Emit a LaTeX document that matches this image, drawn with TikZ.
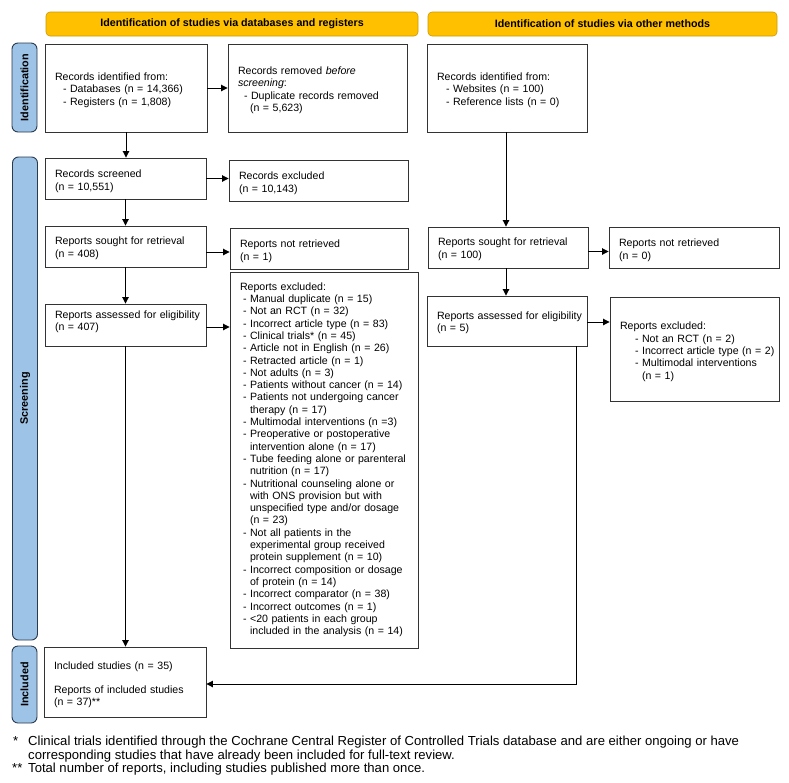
\documentclass[tikz,border=0pt]{standalone}
\usepackage{fontspec}
\setmainfont{Liberation Sans}
\usetikzlibrary{arrows.meta}
\definecolor{hdrfill}{HTML}{FFC000}
\definecolor{hdrdraw}{HTML}{C99A06}
\definecolor{sidefill}{HTML}{9DC3E6}
\definecolor{sidedraw}{HTML}{2B3A4E}
\definecolor{linec}{HTML}{333333}
\newcommand{\boxlines}[2][-2.5pt]{\raisebox{#1}[\height][\depth]{\begin{tabular}{@{}l@{}}#2\end{tabular}}}
\begin{document}
\begin{tikzpicture}[x=1pt,y=-1pt,
  box/.style={draw=linec, line width=0.9pt, rectangle, inner xsep=10pt, inner ysep=0pt,
    align=left, font=\fontsize{10.6}{12.3}\selectfont},
  hdr/.style={draw=hdrdraw, fill=hdrfill, rounded corners=4pt, line width=0.6pt,
    minimum height=24pt, inner sep=0pt, font=\bfseries\fontsize{10.7}{12}\selectfont},
  side/.style={draw=sidedraw, fill=sidefill, rounded corners=6pt, line width=0.9pt,
    rotate=90, minimum height=25pt, inner sep=0pt, font=\bfseries\fontsize{10.8}{12}\selectfont},
  arr/.style={draw=black, line width=0.9pt, -{Triangle[length=6.5pt,width=6.5pt]}},
  fn/.style={inner sep=0pt, anchor=base west, font=\fontsize{13.1}{14}\selectfont}]
\useasboundingbox (0,0) rectangle (789,782);
\fill[white] (0,0) rectangle (789,782);

% headers
\node[hdr, minimum width=372pt] (h1) at (232,24) {Identification of studies via databases and registers};
\node[hdr, minimum width=349pt] (h2) at (602.5,24) {Identification of studies via other methods};

% side bars
\node[side, minimum width=89pt] (s1) at (24.5,87.5) {Identification};
\node[side, minimum width=483pt] (s2) at (25,398.5) {Screening};
\node[side, minimum width=77pt] (s3) at (24.5,684.5) {Included};

% left column
\node[box, minimum width=162pt, minimum height=88pt, text width=142pt] (recid) at (126,88)
  {\boxlines{Records identified from:\\ \hspace*{8pt}- Databases (n = 14,366)\\ \hspace*{8pt}- Registers (n = 1,808)}};
\node[box, minimum width=179pt, minimum height=88pt, text width=159pt] (removed) at (317.5,88)
  {\boxlines{Records removed \textit{before}\\ \textit{screening}:\\ \hspace*{6pt}- Duplicate records removed\\ \hspace*{12pt}(n = 5,623)}};
\node[box, minimum width=161pt, minimum height=41pt, text width=141pt] (screened) at (125.5,178.5)
  {\boxlines[-3pt]{Records screened\\ (n = 10,551)}};
\node[box, minimum width=179pt, minimum height=41pt, text width=159pt] (excl) at (318.5,180.5)
  {\boxlines[-3pt]{Records excluded\\ (n = 10,143)}};
\node[box, minimum width=161pt, minimum height=41pt, text width=141pt] (sought) at (125.5,246.5)
  {\boxlines[-2pt]{Reports sought for retrieval\\ (n = 408)}};
\node[box, minimum width=178pt, minimum height=41pt, text width=158pt] (notret) at (319,248.5)
  {\boxlines[-3pt]{Reports not retrieved\\ (n = 1)}};
\node[box, minimum width=161pt, minimum height=42pt, text width=141pt] (assessed) at (125.5,325)
  {\boxlines[3pt]{Reports assessed for eligibility\\ (n = 407)}};
\node[box, minimum width=188pt, minimum height=376pt, text width=168pt] (bigexcl) at (324,460)
  {\boxlines[0pt]{Reports excluded:\\
  \hspace*{3pt}- Manual duplicate (n = 15)\\
  \hspace*{3pt}- Not an RCT (n = 32)\\
  \hspace*{3pt}- Incorrect article type (n = 83)\\
  \hspace*{3pt}- Clinical trials* (n = 45)\\
  \hspace*{3pt}- Article not in English (n = 26)\\
  \hspace*{3pt}- Retracted article (n = 1)\\
  \hspace*{3pt}- Not adults (n = 3)\\
  \hspace*{3pt}- Patients without cancer (n = 14)\\
  \hspace*{3pt}- Patients not undergoing cancer\\
  \hspace*{10pt}therapy (n = 17)\\
  \hspace*{3pt}- Multimodal interventions (n =3)\\
  \hspace*{3pt}- Preoperative or postoperative\\
  \hspace*{10pt}intervention alone (n = 17)\\
  \hspace*{3pt}- Tube feeding alone or parenteral\\
  \hspace*{10pt}nutrition (n = 17)\\
  \hspace*{3pt}- Nutritional counseling alone or\\
  \hspace*{10pt}with ONS provision but with\\
  \hspace*{10pt}unspecified type and/or dosage\\
  \hspace*{10pt}(n = 23)\\
  \hspace*{3pt}- Not all patients in the\\
  \hspace*{10pt}experimental group received\\
  \hspace*{10pt}protein supplement (n = 10)\\
  \hspace*{3pt}- Incorrect composition or dosage\\
  \hspace*{10pt}of protein (n = 14)\\
  \hspace*{3pt}- Incorrect comparator (n = 38)\\
  \hspace*{3pt}- Incorrect outcomes (n = 1)\\
  \hspace*{3pt}- <20 patients in each group\\
  \hspace*{10pt}included in the analysis (n = 14)}};
\node[box, minimum width=162pt, minimum height=70pt, text width=142pt] (included) at (125,682)
  {\boxlines[-3pt]{Included studies (n = 35)\\[12.3pt] Reports of included studies\\ (n = 37)**}};

% right column
\node[box, minimum width=160pt, minimum height=88pt, text width=140pt] (otherid) at (507,88)
  {\boxlines{Records identified from:\\ \hspace*{9pt}- Websites (n = 100)\\ \hspace*{9pt}- Reference lists (n = 0)}};
\node[box, minimum width=160pt, minimum height=41pt, text width=140pt] (osought) at (508,247.5)
  {\boxlines[-2pt]{Reports sought for retrieval\\ (n = 100)}};
\node[box, minimum width=170pt, minimum height=41pt, text width=150pt] (onotret) at (694,247.5)
  {\boxlines[-3pt]{Reports not retrieved\\ (n = 0)}};
\node[box, minimum width=160pt, minimum height=50pt, text width=140pt] (oassessed) at (507,321)
  {\boxlines[-2pt]{Reports assessed for eligibility\\ (n = 5)}};
\node[box, minimum width=169pt, minimum height=104pt, text width=149pt] (oexcl) at (694.5,349)
  {\boxlines[-3pt]{Reports excluded:\\ \hspace*{15pt}- Not an RCT (n = 2)\\ \hspace*{15pt}- Incorrect article type (n = 2)\\ \hspace*{15pt}- Multimodal interventions\\ \hspace*{22pt}(n = 1)}};

% connectors
\draw[arr] (recid.south) -- (recid.south |- screened.north);
\draw[arr] (recid.east) -- (removed.west);
\draw[arr] (screened.east) -- (screened.east -| excl.west);
\draw[arr] (screened.south) -- (sought.north);
\draw[arr] ([yshift=-5.5pt]sought.east) -- ([yshift=-5.5pt]sought.east -| notret.west);
\draw[arr] (sought.south) -- (assessed.north);
\draw[arr] ([yshift=-2pt]assessed.east) -- ([yshift=-2pt]assessed.east -| bigexcl.west);
\draw[arr] (assessed.south) -- (assessed.south |- included.north);
\draw[arr] ([xshift=-1pt]otherid.south) -- ([xshift=-1pt]otherid.south |- osought.north);
\draw[arr] ([yshift=-4pt]osought.east) -- ([yshift=-4pt]osought.east -| onotret.west);
\draw[arr] ([xshift=-2pt]osought.south) -- ([xshift=-2pt]osought.south |- oassessed.north);
\draw[arr] ([yshift=-1pt]oassessed.east) -- ([yshift=-1pt]oassessed.east -| oexcl.west);
\draw[arr] ([xshift=69pt]oassessed.south) |- ([yshift=-2pt]included.east);

% footnotes
\node[fn] (fs1) at (13,745) {*};
\node[fn] (ft1) at (28,745) {Clinical trials identified through the Cochrane Central Register of Controlled Trials database and are either ongoing or have};
\node[fn] (ft2) at (28,759) {corresponding studies that have already been included for full-text review.};
\node[fn] (fs2) at (12,772) {**};
\node[fn] (ft3) at (28,772) {Total number of reports, including studies published more than once.};
\end{tikzpicture}
\end{document}
